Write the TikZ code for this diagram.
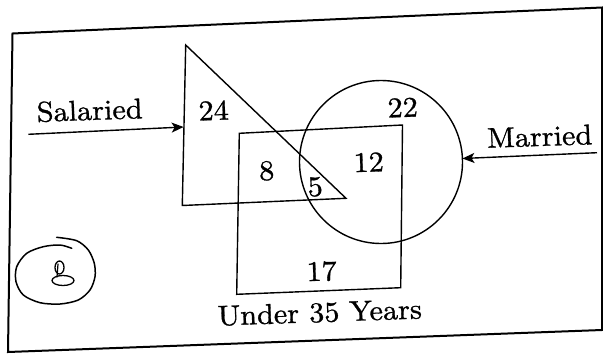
\documentclass[tikz,border=0pt]{standalone}
\usepackage{fontspec}
\setmainfont{lmroman10-regular.otf}[FakeStretch=1.06, FakeBold=1]
\usetikzlibrary{arrows.meta}
\begin{document}
\begin{tikzpicture}[x=1pt,y=-1pt,
  shape line/.style={line width=1.4pt, line join=miter},
  frameline/.style={line width=2pt},
  arr/.style={line width=1.4pt, -{Stealth[length=12pt,width=10pt,inset=3pt]}},
  lbl/.style={font=\fontsize{28.5}{30}\selectfont, anchor=base, rotate=2, inner sep=0pt},
  hand/.style={line width=1.5pt, line cap=round, line join=round}]
\useasboundingbox (0,0) rectangle (603,354);
% outer frame
\coordinate (fTL) at (12.5,33.5);
\coordinate (fTR) at (602,7.5);
\coordinate (fBR) at (602,330);
\coordinate (fBL) at (8,352);
\draw[frameline] (fTL) -- (fTR) -- (fBR) -- (fBL) -- cycle;
% triangle (Salaried)
\coordinate (tA) at (185.7,45);
\coordinate (tB) at (182.3,205.5);
\coordinate (tC) at (346,198.3);
\draw[shape line] (tA) -- (tB) -- (tC) -- cycle;
% square (Under 35 Years)
\coordinate (sq1) at (239.3,133.3);
\coordinate (sq2) at (402.5,125);
\coordinate (sq3) at (400.7,287.7);
\coordinate (sq4) at (236.7,294.3);
\draw[shape line] (sq1) -- (sq2) -- (sq3) -- (sq4) -- cycle;
% circle (Married)
\node[draw, shape line, circle, minimum size=163pt, inner sep=0pt, outer sep=0pt] (married) at (381,162) {};
% arrows
\coordinate (salStart) at (28.3,134.3);
\coordinate (salTip) at (183.6,127);
\draw[arr] (salStart) -- (salTip);
\coordinate (marStart) at (597,152.7);
\draw[arr] (marStart) -- (married);
% labels
\node[lbl] (tSal) at (90,120) {Salaried};
\node[lbl] (tMar) at (540,146) {Married};
\node[lbl] (tUnd) at (320,322) {Under 35 Years};
\node[lbl] (n24) at (214,120) {24};
\node[lbl] (n8) at (267,180) {8};
\node[lbl] (n5) at (315.5,196) {5};
\node[lbl] (n12) at (369,171.7) {12};
\node[lbl] (n22) at (403,117) {22};
\node[lbl] (n17) at (322,280.7) {17};
% handwritten circled 8
\draw[hand] plot[smooth] coordinates {(56.7,237.3) (76.7,240.7) (88.3,250) (94.3,263.3) (95,276.7) (90,290) (78.3,300) (60,304) (40,302.7) (23.3,295) (16,281.7) (16.7,266.7) (26.7,253.3) (43.3,246.7) (60,245) (71.7,248.3)};
\draw[hand, line width=1.3pt] (59.5,267.5) ellipse [x radius=4.5pt, y radius=6.5pt];
\draw[hand, line width=1.3pt] (63,280.5) ellipse [x radius=11pt, y radius=5pt];
\draw[hand, line width=1.2pt] (58,264) -- (57,277);
\end{tikzpicture}
\end{document}
